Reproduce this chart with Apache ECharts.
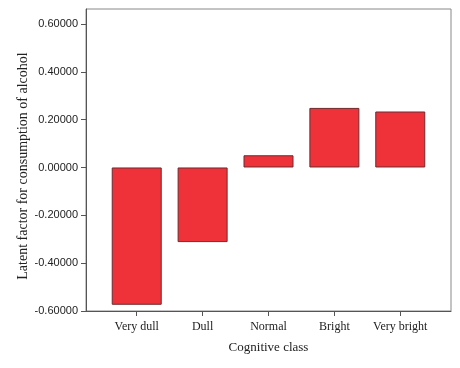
<!DOCTYPE html>
<html>
<head>
<meta charset="utf-8">
<script src="https://cdn.jsdelivr.net/npm/echarts@6/dist/echarts.min.js"></script>
<style>html,body{margin:0;padding:0;background:#fff}#c{width:460px;height:368px}</style>
</head>
<body>
<div id="c"></div>
<script>
const categories = ["Very dull", "Dull", "Normal", "Bright", "Very bright"];
const values = [-0.574, -0.312, 0.051, 0.249, 0.234];
const yTicks = [-0.6, -0.4, -0.2, 0, 0.2, 0.4, 0.6];

const chart = echarts.init(document.getElementById('c'), null, {renderer: 'canvas'});
const axisColor = '#555';
chart.setOption({
  animation: false,
  backgroundColor: '#fff',
  grid: {left: 86, right: 9, top: 9, bottom: 57, show: true, borderColor: '#888', borderWidth: 1, containLabel: false},
  xAxis: {
    type: 'value', min: -0.77, max: 4.77,
    name: 'Cognitive class', nameLocation: 'middle', nameGap: 30, nameMoveOverlap: false,
    nameTextStyle: {fontFamily: 'Liberation Serif', fontSize: 13, color: '#222'},
    axisLine: {show: true, onZero: false, lineStyle: {color: axisColor, width: 1}},
    splitLine: {show: false},
    axisTick: {show: true, length: 5, inside: false, customValues: [0, 1, 2, 3, 4], lineStyle: {color: axisColor}},
    axisLabel: {customValues: [0, 1, 2, 3, 4], formatter: v => categories[Math.round(v)], fontFamily: 'Liberation Serif', fontSize: 12, color: '#222', margin: 10}
  },
  yAxis: {
    type: 'value', min: -0.6, max: 0.6625,
    name: 'Latent factor for consumption of alcohol', nameLocation: 'middle', nameGap: 56, nameRotate: 90, nameMoveOverlap: false,
    nameTextStyle: {fontFamily: 'Liberation Serif', fontSize: 14, color: '#222', padding: [0, 12, 0, 0]},
    axisLine: {show: true, onZero: false, lineStyle: {color: axisColor, width: 1}},
    splitLine: {show: false},
    axisTick: {show: true, length: 5, customValues: yTicks, lineStyle: {color: axisColor}},
    axisLabel: {customValues: yTicks, formatter: v => v.toFixed(5), fontFamily: 'Liberation Sans', fontSize: 11, color: '#222', margin: 8}
  },
  series: [{
    type: 'bar',
    data: values.map((v, i) => [i, v]),
    barWidth: 50,
    itemStyle: {color: '#EF323A', borderColor: '#6e2a2d', borderWidth: 1}
  }]
});
</script>
</body>
</html>
